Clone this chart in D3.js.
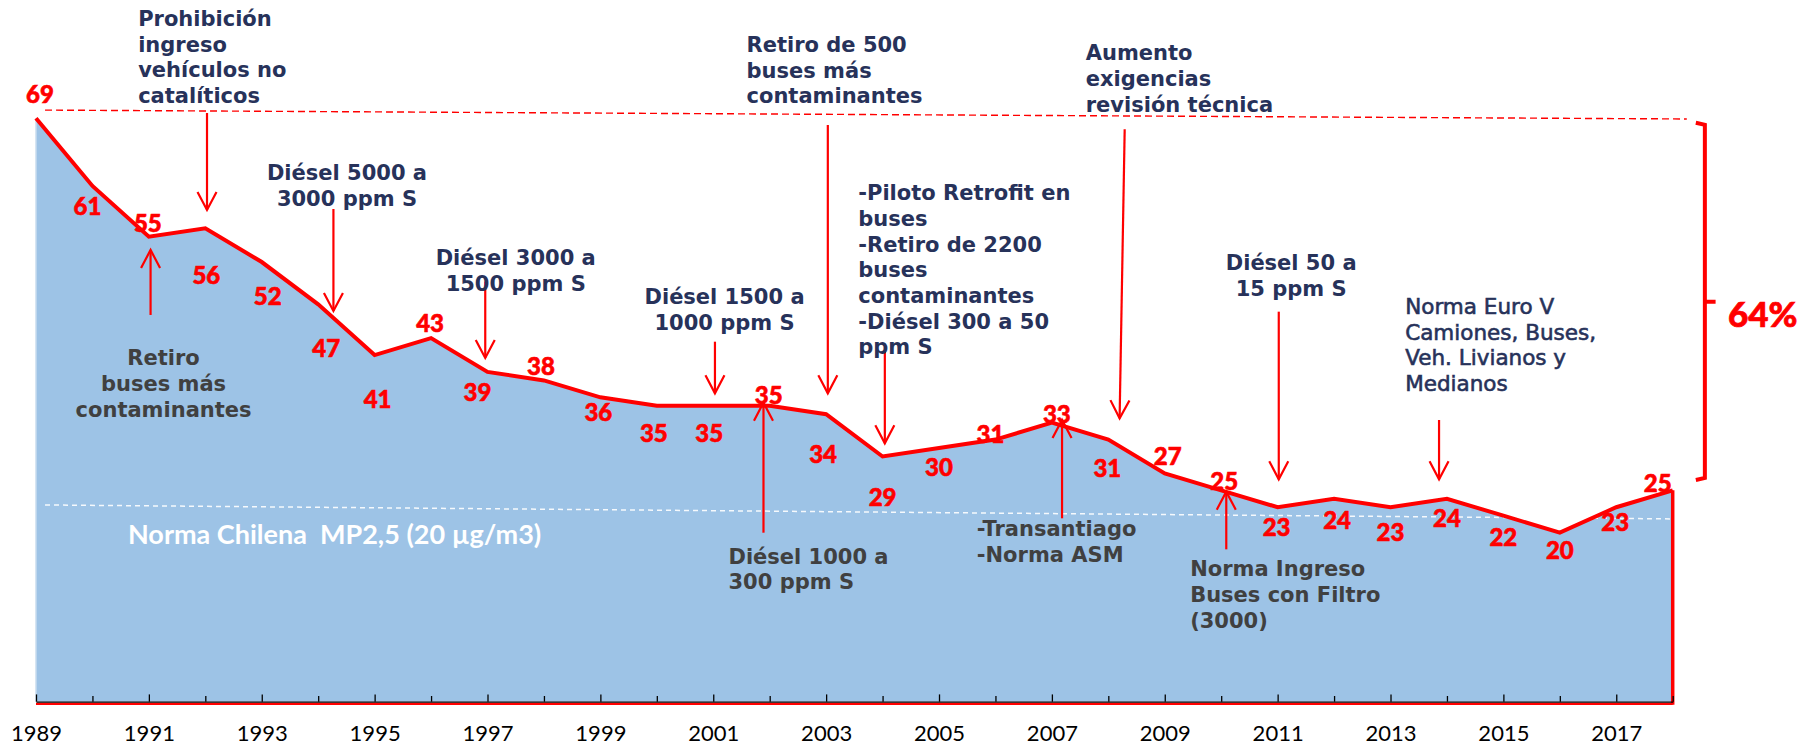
<!DOCTYPE html>
<html>
<head>
<meta charset="utf-8">
<script src="https://cdn.jsdelivr.net/npm/d3@7/dist/d3.min.js"></script>
<style>
  html, body { margin: 0; padding: 0; background: #fff; }
  svg { display: block; }
</style>
</head>
<body>
<script>
// annual mean MP2,5 in Santiago (µg/m3)
const years = [1989, 1990, 1991, 1992, 1993, 1994, 1995, 1996, 1997, 1998, 1999, 2000, 2001, 2002, 2003,
  2004, 2005, 2006, 2007, 2008, 2009, 2010, 2011, 2012, 2013, 2014, 2015, 2016, 2017, 2018];
const mp25 = [69, 61, 55, 56, 52, 47, 41, 43, 39, 38, 36, 35, 35, 35, 34,
  29, 30, 31, 33, 31, 27, 25, 23, 24, 23, 24, 22, 20, 23, 25];
const tickLabels = ['1989', '1991', '1993', '1995', '1997', '1999', '2001', '2003', '2005', '2007',
  '2009', '2011', '2013', '2015', '2017'];

const normLabel = 'Norma Chilena  MP2,5 (20 µg/m3)';
const reductionLabel = '64%';

// where each value label sits, relative to its point (px)
const labelOffsets = [
  [4, -25], [-5, 20], [-1, -14], [1, 46], [6, 33], [8, 43], [3, 43], [-1, -16], [-10, 20], [-3, -15],
  [-2, 14], [-3, 27], [-4, 27], [-1, -11], [-3, 39], [0, 40], [0, 18], [-5, -6], [5, -9], [-1, 28],
  [3, -18], [3, -10], [-1, 19], [3, 21], [0, 24], [0, 19], [0, 21], [0, 17], [-1, 14], [-15, -8]
];

const navy = '#27325a';
const grey = '#404040';
const red = '#ff0000';

// text notes, anchored in [year, value] of the first line
const notes = [
  { lines: ['Prohibición', 'ingreso', 'vehículos no', 'catalíticos'], at: [1990.81, 80.74], anchor: 'start', color: navy },
  { lines: ['Diésel 5000 a', '3000 ppm S'], at: [1994.51, 62.49], anchor: 'middle', color: navy },
  { lines: ['Retiro', 'buses más', 'contaminantes'], at: [1991.26, 40.61], anchor: 'middle', color: grey },
  { lines: ['Diésel 3000 a', '1500 ppm S'], at: [1997.5, 52.44], anchor: 'middle', color: navy },
  { lines: ['Diésel 1500 a', '1000 ppm S'], at: [2001.2, 47.83], anchor: 'middle', color: navy },
  { lines: ['Retiro de 500', 'buses más', 'contaminantes'], at: [2001.59, 77.67], anchor: 'start', color: navy },
  { lines: ['-Piloto Retrofit en', 'buses', '-Retiro de 2200', 'buses', 'contaminantes', '-Diésel 300 a 50', 'ppm S'],
    at: [2003.57, 60.13], anchor: 'start', color: navy },
  { lines: ['Aumento', 'exigencias', 'revisión técnica'], at: [2007.6, 76.69], anchor: 'start', color: navy },
  { lines: ['Diésel 50 a', '15 ppm S'], at: [2011.24, 51.85], anchor: 'middle', color: navy },
  { lines: ['Norma Euro V', 'Camiones, Buses,', 'Veh. Livianos y', 'Medianos'], at: [2013.26, 46.8], anchor: 'start', color: navy, alt: true },
  { lines: ['Diésel 1000 a', '300 ppm S'], at: [2001.27, 17.15], anchor: 'start', color: grey },
  { lines: ['-Transantiago', '-Norma ASM'], at: [2005.67, 20.39], anchor: 'start', color: grey },
  { lines: ['Norma Ingreso', 'Buses con Filtro', '(3000)'], at: [2009.45, 15.66], anchor: 'start', color: grey }
];

const arrows = [
  { from: [1992.03, 69.63], to: [1992.03, 58.16] },
  { from: [1994.27, 58.27], to: [1994.27, 46.21] },
  { from: [1991.03, 45.74], to: [1991.03, 53.43] },
  { from: [1996.96, 49.67], to: [1996.96, 40.65] },
  { from: [2001.03, 42.58], to: [2001.03, 36.47] },
  { from: [2003.03, 68.21], to: [2003.03, 36.47] },
  { from: [2004.04, 41.4], to: [2004.04, 30.56] },
  { from: [2008.29, 67.7], to: [2008.2, 33.52] },
  { from: [2011.02, 46.13], to: [2011.02, 26.3] },
  { from: [2013.86, 33.32], to: [2013.86, 26.3] },
  { from: [2001.89, 19.99], to: [2001.89, 35.36] },
  { from: [2007.18, 21.69], to: [2007.18, 33.32] },
  { from: [2010.09, 18.02], to: [2010.09, 24.84] }
];

// hand drawn guide lines of the original slide
const topGuide = [[1989.16, 69.97], [2018.25, 68.92]];
const normGuide = [[1989.16, 23.27], [2018, 21.62]];
const bracket = { x: 2018.57, top: 68.47, bottom: 26.22, mid: 47.31 };

const W = 1812, H = 747;
const svg = d3.select('body').append('svg').attr('width', W).attr('height', H);

const x = d3.scaleLinear().domain([1989, 2018]).range([36, 1672.7]);
const y = d3.scaleLinear().domain([0, 69]).range([701.7, 118.3]);

const pts = years.map((yr, i) => ({ yr, v: mp25[i] }));
const last = pts[pts.length - 1];

svg.append('path')
  .datum(pts)
  .attr('d', d3.area().x(d => x(d.yr)).y0(y(0)).y1(d => y(d.v)))
  .attr('fill', '#9dc3e6');

svg.append('line')
  .attr('x1', x(years[0])).attr('x2', x(years[0]))
  .attr('y1', y(mp25[0])).attr('y2', y(0))
  .attr('stroke', '#c8dcef').attr('stroke-width', 1.5);

// red outline: bottom and right side
svg.append('line')
  .attr('x1', x(years[0])).attr('x2', x(last.yr))
  .attr('y1', y(0) + 2.2).attr('y2', y(0) + 2.2)
  .attr('stroke', red).attr('stroke-width', 2.4);
svg.append('line')
  .attr('x1', x(last.yr)).attr('x2', x(last.yr))
  .attr('y1', y(last.v)).attr('y2', y(0) + 3)
  .attr('stroke', red).attr('stroke-width', 3.5);

const axis = svg.append('g')
  .attr('transform', `translate(0,${y(0)})`)
  .call(d3.axisBottom(x)
    .tickValues(years)
    .tickSizeInner(-7)
    .tickSizeOuter(0)
    .tickPadding(24)
    .tickFormat(d => tickLabels.includes(String(d)) ? String(d) : ''));
axis.select('.domain').attr('stroke', '#000').attr('stroke-width', 1.3);
axis.selectAll('.tick line')
  .attr('stroke', '#000').attr('stroke-width', 1.3)
  .attr('y2', d => tickLabels.includes(String(d)) ? -7.3 : -5.7);
axis.selectAll('.tick text')
  .attr('fill', '#000')
  .style('font-family', 'Lato, sans-serif')
  .style('font-size', '22px');

const guide = d3.line().x(d => x(d[0])).y(d => y(d[1]));

svg.append('path')
  .attr('d', guide(normGuide))
  .attr('fill', 'none')
  .attr('stroke', '#fff')
  .attr('stroke-opacity', 0.9)
  .attr('stroke-width', 1.5)
  .attr('stroke-dasharray', '5,4');

svg.append('path')
  .attr('d', guide(topGuide))
  .attr('fill', 'none')
  .attr('stroke', red)
  .attr('stroke-width', 1.4)
  .attr('stroke-dasharray', '7,4');

svg.append('text')
  .attr('x', x(1990.63))
  .attr('y', y(19.92))
  .attr('dominant-baseline', 'central')
  .attr('fill', '#fff')
  .style('font-family', 'Lato, sans-serif')
  .style('font-weight', 700)
  .style('font-size', '27px')
  .style('white-space', 'pre')
  .text(normLabel);

svg.append('path')
  .datum(pts)
  .attr('d', d3.line().x(d => x(d.yr)).y(d => y(d.v)))
  .attr('fill', 'none')
  .attr('stroke', red)
  .attr('stroke-width', 4)
  .attr('stroke-linejoin', 'miter');

// arrows with open heads
const arrowG = svg.append('g')
  .attr('stroke', red)
  .attr('stroke-width', 2.2)
  .attr('fill', 'none');

arrows.forEach(a => {
  const x1 = x(a.from[0]), y1 = y(a.from[1]);
  const x2 = x(a.to[0]), y2 = y(a.to[1]);
  const ang = Math.atan2(y2 - y1, x2 - x1);
  const len = 18, half = 9.5;
  const bx = x2 - len * Math.cos(ang), by = y2 - len * Math.sin(ang);
  const px = -Math.sin(ang) * half, py = Math.cos(ang) * half;
  arrowG.append('line').attr('x1', x1).attr('y1', y1).attr('x2', x2).attr('y2', y2);
  arrowG.append('path')
    .attr('d', `M${bx + px},${by + py}L${x2},${y2}L${bx - px},${by - py}`)
    .attr('stroke-linejoin', 'miter');
});

// value labels
svg.append('g')
  .selectAll('text')
  .data(pts)
  .join('text')
  .attr('x', (d, i) => x(d.yr) + labelOffsets[i][0])
  .attr('y', (d, i) => y(d.v) + labelOffsets[i][1])
  .attr('text-anchor', 'middle')
  .attr('dominant-baseline', 'central')
  .attr('fill', red)
  .attr('stroke', red)
  .attr('stroke-width', 0.6)
  .style('font-family', 'Lato, sans-serif')
  .style('font-weight', 900)
  .style('font-size', '24px')
  .text(d => d.v);

// notes
const lineH = 25.7;
svg.append('g')
  .selectAll('text')
  .data(notes)
  .join('text')
  .attr('x', d => x(d.at[0]))
  .attr('y', d => y(d.at[1]))
  .attr('text-anchor', d => d.anchor)
  .attr('dominant-baseline', 'central')
  .attr('fill', d => d.color)
  .attr('stroke', d => d.alt ? d.color : 'none')
  .attr('stroke-width', 0.6)
  .style('font-family', '"DejaVu Sans", sans-serif')
  .style('font-weight', d => d.alt ? 400 : 700)
  .style('font-size', d => d.alt ? '21.5px' : '21px')
  .each(function (d) {
    const t = d3.select(this);
    d.lines.forEach((ln, i) => {
      t.append('tspan')
        .attr('x', x(d.at[0]))
        .attr('y', y(d.at[1]) + i * lineH)
        .text(ln);
    });
  });

// bracket showing the total reduction
const bx = x(bracket.x);
const hook = x(bracket.x) - x(2018.41);
const tick = x(2018.76) - x(bracket.x);
svg.append('path')
  .attr('d', `M${bx - hook},${y(bracket.top)}L${bx},${y(bracket.top) + 2}L${bx},${y(bracket.bottom) - 2}L${bx - hook},${y(bracket.bottom)}` +
    `M${bx},${y(bracket.mid)}L${bx + tick},${y(bracket.mid)}`)
  .attr('fill', 'none')
  .attr('stroke', red)
  .attr('stroke-width', 4);

svg.append('text')
  .attr('x', x(2018.98))
  .attr('y', y(45.97))
  .attr('dominant-baseline', 'central')
  .attr('fill', red)
  .attr('stroke', red)
  .attr('stroke-width', 0.7)
  .style('font-family', 'Lato, sans-serif')
  .style('font-weight', 900)
  .style('font-size', '35px')
  .text(reductionLabel);
</script>
</body>
</html>
